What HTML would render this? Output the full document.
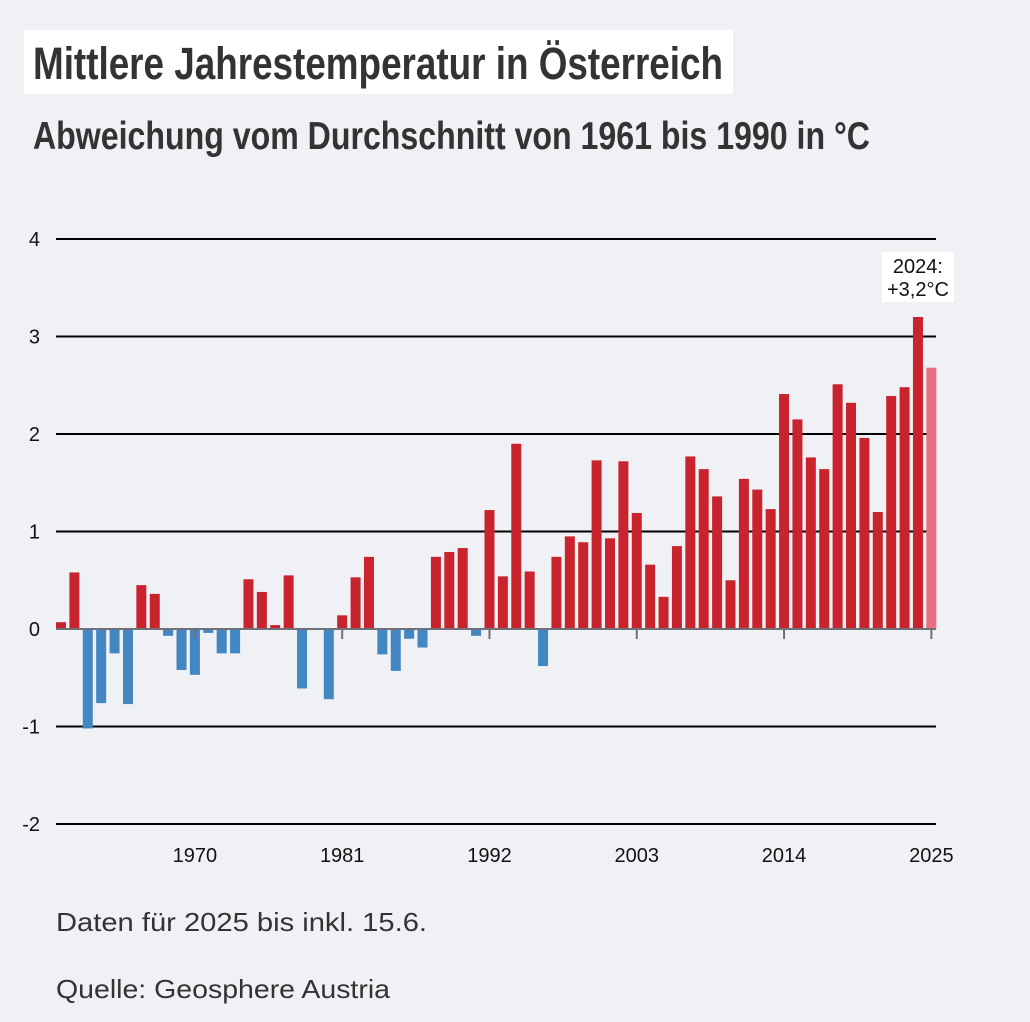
<!DOCTYPE html>
<html><head><meta charset="utf-8"><style>
body{margin:0;background:#f0f1f5;width:1030px;height:1022px;overflow:hidden;font-family:"Liberation Sans",sans-serif;}
</style></head><body>
<svg width="1030" height="1022" style="position:absolute;left:0;top:0">
<rect x="24" y="30" width="709" height="64" fill="#fff"/>
<text x="33" y="79" font-size="45" font-weight="bold" fill="#333" textLength="690" lengthAdjust="spacingAndGlyphs">Mittlere Jahrestemperatur in Österreich</text>
<text x="33" y="149" font-size="39" font-weight="bold" fill="#333" textLength="837" lengthAdjust="spacingAndGlyphs">Abweichung vom Durchschnitt von 1961 bis 1990 in °C</text>
<text x="56" y="931" font-size="26" fill="#333" textLength="371" lengthAdjust="spacingAndGlyphs">Daten für 2025 bis inkl. 15.6.</text>
<text x="56" y="998" font-size="26" fill="#333" textLength="334" lengthAdjust="spacingAndGlyphs">Quelle: Geosphere Austria</text>
</svg>
<svg id="c" width="1030" height="880" style="position:absolute;left:0;top:0"></svg>
<script>
const years=[];for(let y=1960;y<=2025;y++)years.push(y);
const values=[0.07,0.58,-1.02,-0.76,-0.25,-0.77,0.45,0.36,-0.07,-0.42,-0.47,-0.04,-0.25,-0.25,0.51,0.38,0.04,0.55,-0.61,0,-0.72,0.14,0.53,0.74,-0.26,-0.43,-0.10,-0.19,0.74,0.79,0.83,-0.07,1.22,0.54,1.90,0.59,-0.38,0.74,0.95,0.89,1.73,0.93,1.72,1.19,0.66,0.33,0.85,1.77,1.64,1.36,0.50,1.54,1.43,1.23,2.41,2.15,1.76,1.64,2.51,2.32,1.96,1.20,2.39,2.48,3.2,2.68];
const yTicks=[4,3,2,1,0,-1,-2];
const yTickLabels=["4","3","2","1","0","-1","-2"];
const xTickYears=[1970,1981,1992,2003,2014,2025];
const NS="http://www.w3.org/2000/svg";
const svg=document.getElementById('c');
const y0=629,unit=97.5,pitch=13.39,x0=56,bw=10;
const Y=v=>y0-v*unit;
const X=yr=>x0+(yr-1960)*pitch;
function mk(t,a){const e=document.createElementNS(NS,t);for(const k in a)e.setAttribute(k,a[k]);svg.appendChild(e);return e;}
yTicks.forEach((v,i)=>{
  if(v!==0){const l=mk('line',{x1:56,x2:936,y1:Y(v),y2:Y(v),stroke:'#000','stroke-width':2});
  
  }
  const t=mk('text',{x:40,y:Y(v)+7,'text-anchor':'end','font-size':20,fill:'#111'});
  t.textContent=yTickLabels[i];
  
  
});
years.forEach((yr,i)=>{
  const v=values[i];if(!v)return;
  const col=yr===2025?'#e87080':(v>=0?'#c9232d':'#4286c2');
  const r=mk('rect',{x:X(yr),y:v>=0?Y(v):y0,width:bw,height:Math.abs(v)*unit,fill:col});
  
  
});
const ax=mk('line',{x1:56,x2:936,y1:y0,y2:y0,stroke:'#6e7179','stroke-width':2});


xTickYears.forEach(yr=>{
  const cx=X(yr)+bw/2;
  const tk=mk('line',{x1:cx,x2:cx,y1:y0,y2:y0+10,stroke:'#6e7179','stroke-width':2});
  
  
  const t=mk('text',{x:cx,y:862,'text-anchor':'middle','font-size':20,fill:'#111'});
  t.textContent=yr;
  
  
});
const bx=X(2024)+bw/2;
const box=mk('rect',{x:bx-36,y:252,width:72,height:50,fill:'#fff'});


['2024:','+3,2°C'].forEach((s,i)=>{
  const t=mk('text',{x:bx,y:273+i*23,'text-anchor':'middle','font-size':20,fill:'#111'});
  t.textContent=s;
  
  
});
</script>
</body></html>
